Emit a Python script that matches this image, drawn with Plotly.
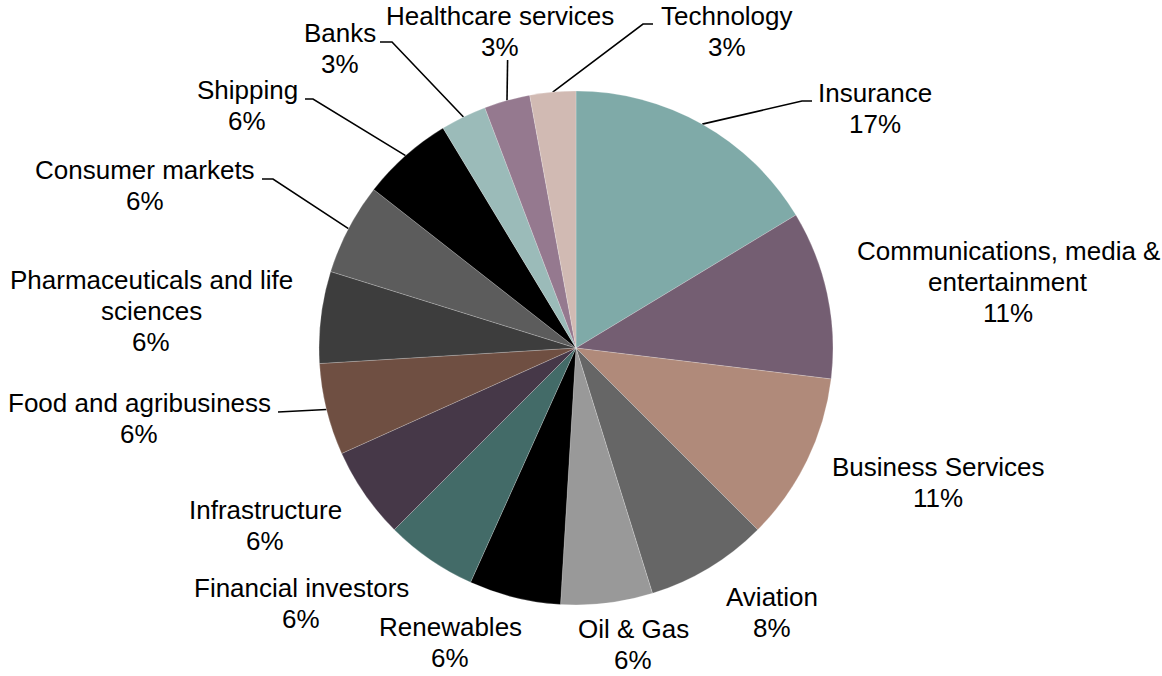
import math
import plotly.graph_objects as go

# Sector mix (share of deals, %)
sectors = [
    "Insurance", "Communications, media & entertainment", "Business Services",
    "Aviation", "Oil & Gas", "Renewables", "Financial investors", "Infrastructure",
    "Food and agribusiness", "Pharmaceuticals and life sciences", "Consumer markets",
    "Shipping", "Banks", "Healthcare services", "Technology",
]
shares = [17, 11, 11, 8, 6, 6, 6, 6, 6, 6, 6, 6, 3, 3, 3]

slice_colors = [
    "#7FAAA8", "#745E72", "#B08A7A", "#666666", "#999999", "#000000", "#436B68",
    "#463848", "#6F4F42", "#3D3D3D", "#5C5C5C", "#000000", "#9BBBB9", "#95798F",
    "#D1BAB3",
]

# ---- layout (pixel space of the 1162 x 676 canvas) ----
W, H = 1162, 676
CX, CY, R = 576, 348, 257
LINE_STEP = 31  # vertical distance between label lines

# display line breaks for long names
breaks = {
    "Communications, media & entertainment": ["Communications, media &", "entertainment"],
    "Pharmaceuticals and life sciences": ["Pharmaceuticals and life", "sciences"],
}

# label block centres and leader-line waypoints (from label side toward slice)
label_layout = {
    "Insurance": ((875, 108), [(812, 101), (802, 101)]),
    "Communications, media & entertainment": ((1008, 282), None),
    "Business Services": ((938, 482), None),
    "Aviation": ((772, 612), None),
    "Oil & Gas": ((633, 644), None),
    "Renewables": ((450, 642), None),
    "Financial investors": ((301, 603), None),
    "Infrastructure": ((265, 525), None),
    "Food and agribusiness": ((139, 418), [(278, 412)]),
    "Pharmaceuticals and life sciences": ((151, 311), None),
    "Consumer markets": ((145, 185), [(262, 179), (273, 179)]),
    "Shipping": ((247, 105), [(305, 99), (313, 99)]),
    "Banks": ((340, 48), [(380, 42), (392, 42)]),
    "Healthcare services": ((500, 31), [(507.6, 60)]),
    "Technology": ((727, 31), [(653, 24), (643, 24)]),
}

FONT = dict(family="Liberation Sans, Arial, sans-serif", size=26, color="#000000")

fig = go.Figure()

fig.add_trace(go.Pie(
    labels=sectors,
    values=shares,
    sort=False,
    direction="clockwise",
    rotation=0,
    marker=dict(colors=slice_colors, line=dict(color="rgba(255,255,255,0.35)", width=0.6)),
    textinfo="none",
    hoverinfo="label+value",
    showlegend=False,
    domain=dict(
        x=[(CX - R) / W, (CX + R) / W],
        y=[1 - (CY + R) / H, 1 - (CY - R) / H],
    ),
))

total = sum(shares)
cum = 0.0
annotations = []
for name, val in zip(sectors, shares):
    mid = (cum + val / 2) / total * 2 * math.pi
    cum += val
    ex = CX + R * math.sin(mid)
    ey = CY - R * math.cos(mid)
    (tx, ty), path = label_layout[name]
    if path:
        xs = [p[0] for p in path] + [ex]
        ys = [p[1] for p in path] + [ey]
        fig.add_trace(go.Scatter(
            x=xs, y=ys, mode="lines",
            line=dict(color="#000000", width=1.6),
            hoverinfo="skip", showlegend=False,
        ))
    lines = breaks.get(name, [name]) + [f"{val}%"]
    n = len(lines)
    for i, txt in enumerate(lines):
        annotations.append(dict(
            x=tx, y=ty + (i - (n - 1) / 2) * LINE_STEP,
            xref="x", yref="y",
            text=txt, showarrow=False, align="center",
            xanchor="center", yanchor="middle",
            borderpad=0,
            font=FONT,
        ))

fig.update_layout(
    width=W, height=H,
    margin=dict(l=0, r=0, t=0, b=0),
    paper_bgcolor="#FFFFFF",
    plot_bgcolor="rgba(0,0,0,0)",
    xaxis=dict(range=[0, W], visible=False, fixedrange=True),
    yaxis=dict(range=[H, 0], visible=False, fixedrange=True),
    annotations=annotations,
    showlegend=False,
)

fig.write_html("out.html")
